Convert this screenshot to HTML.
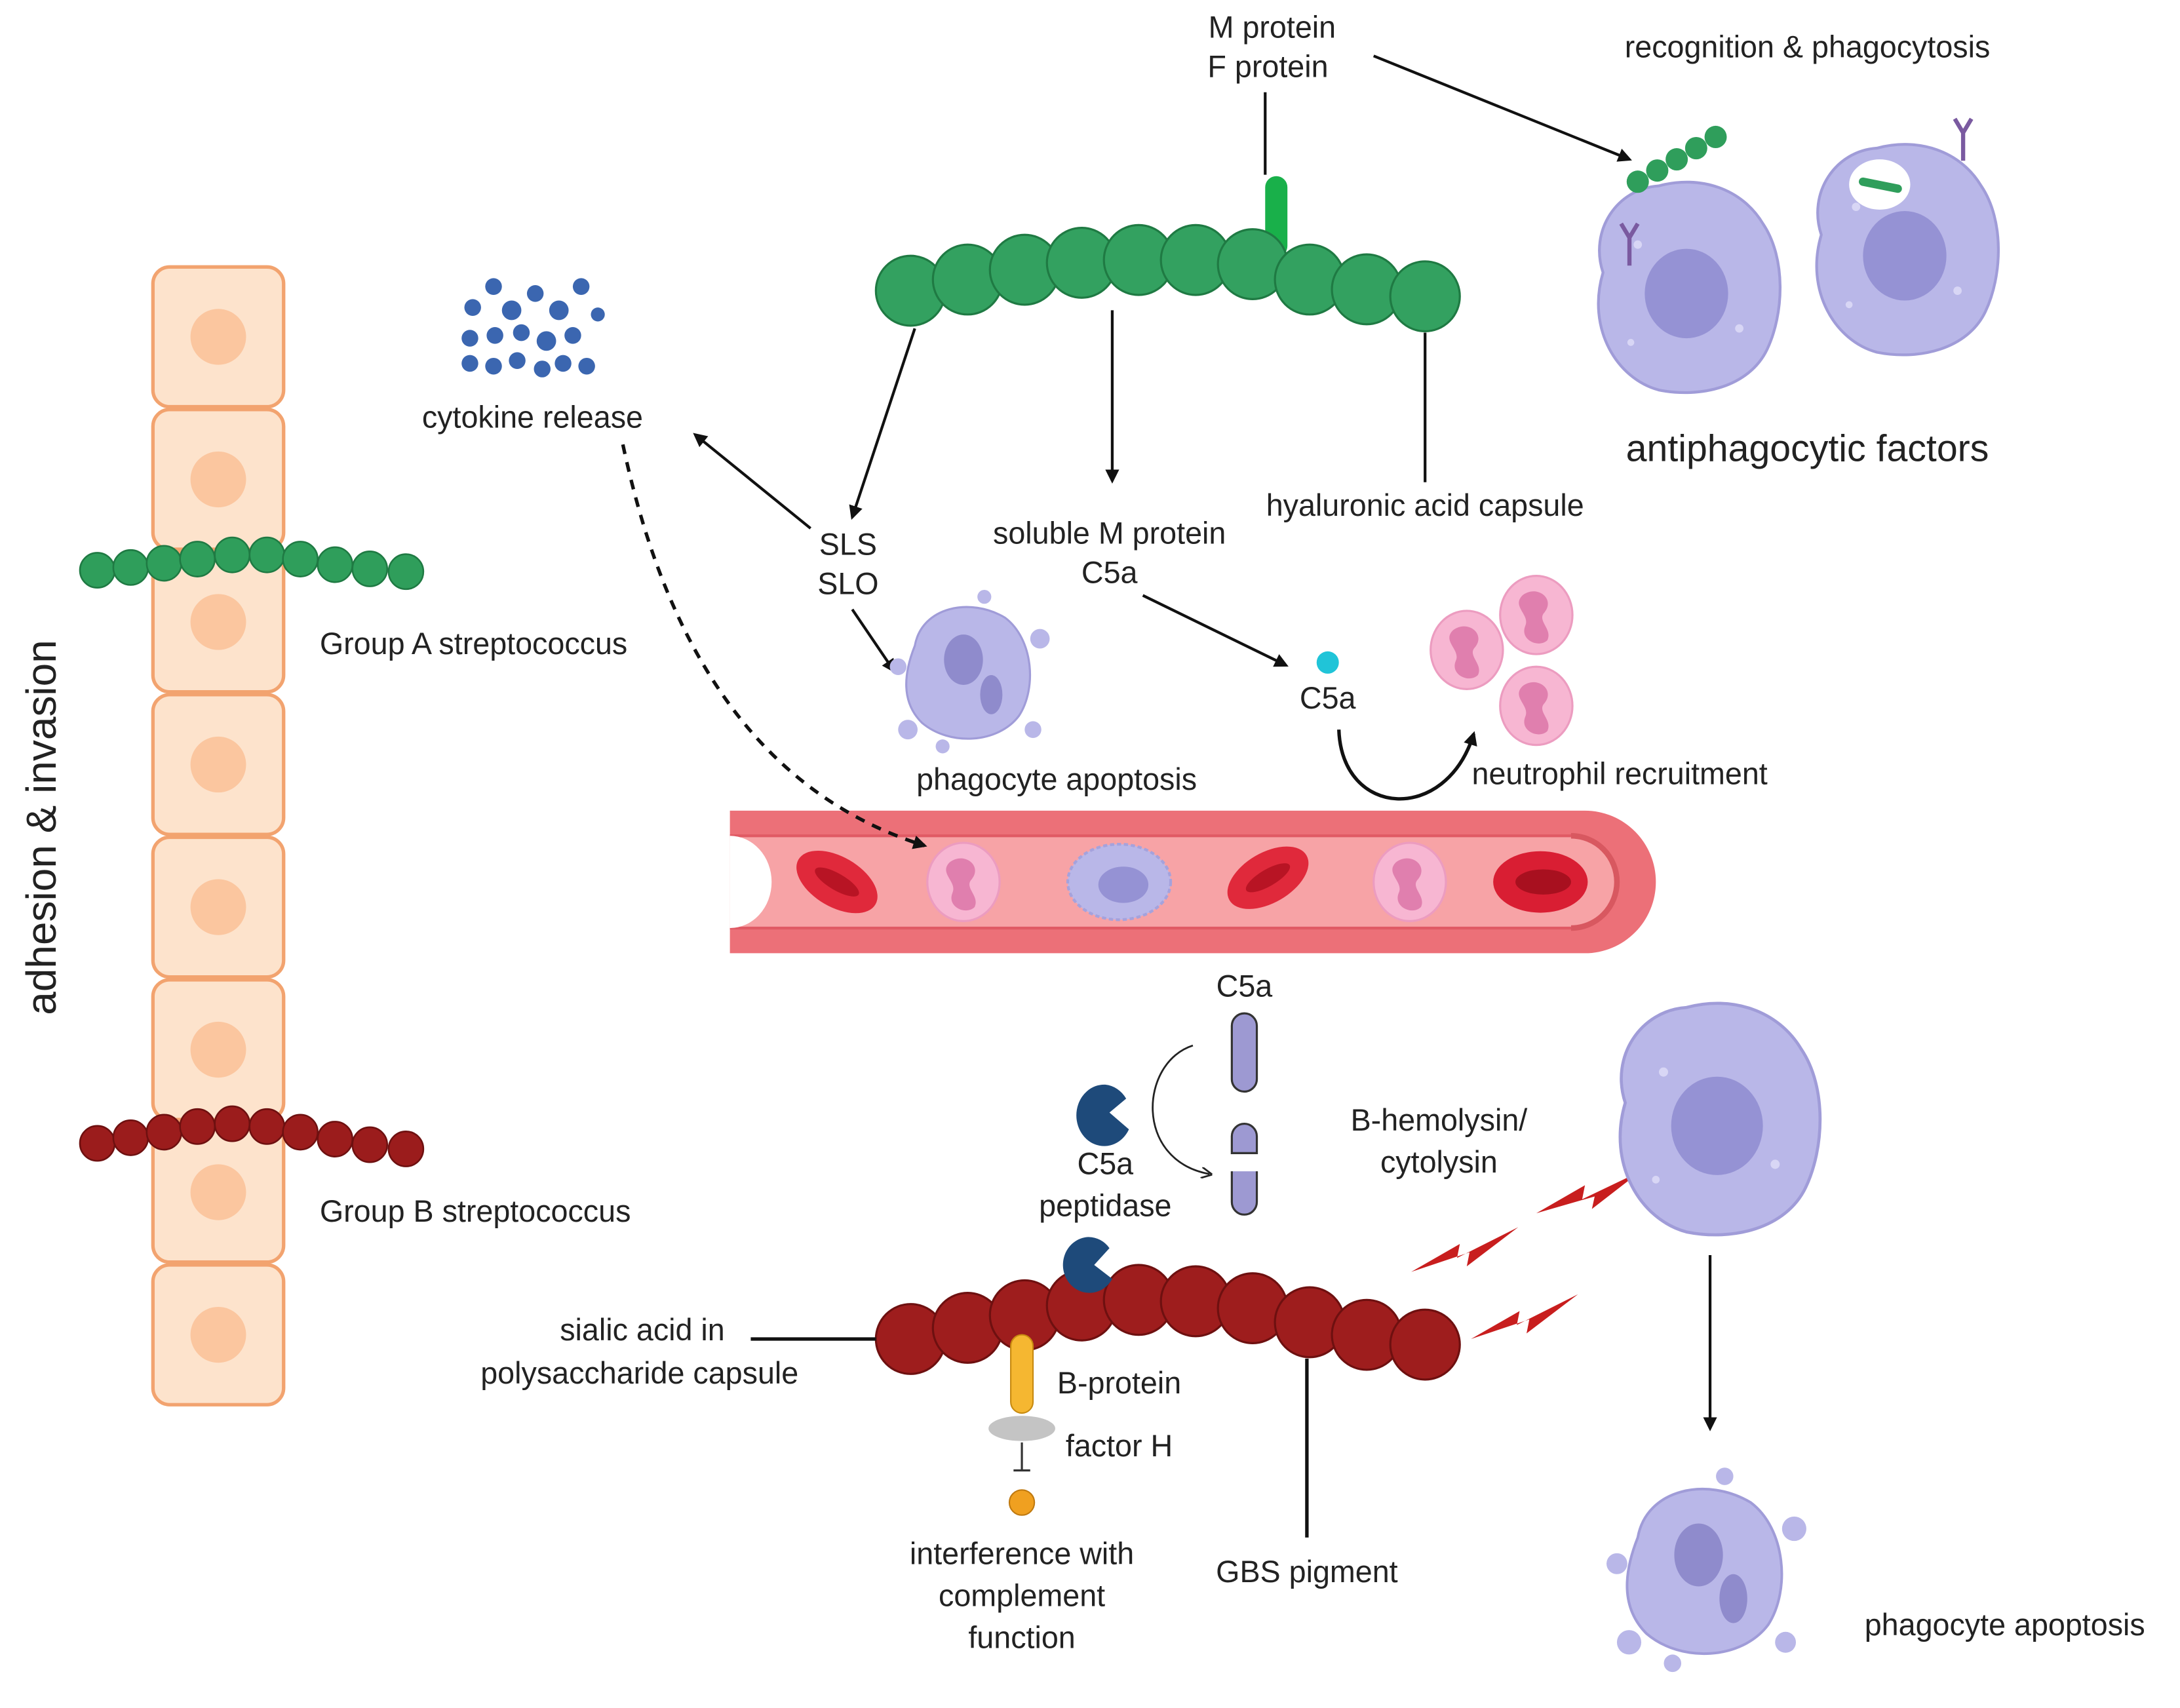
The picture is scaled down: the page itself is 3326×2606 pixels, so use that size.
<!DOCTYPE html>
<html><head><meta charset="utf-8"><style>
html,body{margin:0;padding:0;background:#fff}
svg{display:block}
text{font-family:"Liberation Sans Narrow","Liberation Sans",sans-serif;fill:#222}
</style></head><body>
<svg width="3326" height="2606" viewBox="0 0 1568 1222" preserveAspectRatio="none" xmlns="http://www.w3.org/2000/svg">
<defs>
<marker id="ah" markerWidth="10" markerHeight="10" refX="8" refY="5" orient="auto" markerUnits="userSpaceOnUse"><path d="M0,0 L10,5 L0,10 z" fill="#111"/></marker>
<marker id="ahs" markerWidth="8" markerHeight="8" refX="6" refY="4" orient="auto" markerUnits="userSpaceOnUse"><path d="M0,0 L8,4 L0,8" fill="none" stroke="#222" stroke-width="1.3"/></marker>
<g id="cell"><rect x="-47" y="-50" width="94" height="100" rx="12" fill="#fde3cc" stroke="#f2a36f" stroke-width="2.5"/><circle r="20" fill="#fbc69f"/></g>
<g id="gA"><circle r="12.5" fill="#2f9e5b" stroke="#1f7a43" stroke-width="1.2"/></g>
<g id="gB"><circle r="12.5" fill="#9b1c1c" stroke="#6e1010" stroke-width="1.2"/></g>
<g id="GA"><circle r="25" fill="#33a160" stroke="#1f7a43" stroke-width="1.5"/></g>
<g id="GB"><circle r="25" fill="#9e1d1d" stroke="#6e1010" stroke-width="1.5"/></g>
<g id="mac"><path d="M-60,-10 C-70,-40 -50,-70 -20,-72 C10,-80 40,-70 55,-45 C72,-20 70,20 58,45 C45,72 10,80 -20,74 C-50,66 -72,30 -60,-10z" fill="#b9b7e8" stroke="#a09cd8" stroke-width="2"/><ellipse cx="0" cy="5" rx="30" ry="32" fill="#9592d4"/><circle cx="-35" cy="-30" r="3" fill="#d8d6f5"/><circle cx="38" cy="30" r="3" fill="#d8d6f5"/><circle cx="-40" cy="40" r="2.5" fill="#d8d6f5"/></g>
<g id="apo"><path d="M-40,-20 C-35,-48 0,-55 25,-40 C45,-25 48,10 35,30 C20,50 -15,52 -35,35 C-50,20 -48,0 -40,-20z" fill="#b9b7e8" stroke="#a09cd8" stroke-width="1.5"/><ellipse cx="-5" cy="-10" rx="14" ry="18" fill="#8f8bcc"/><ellipse cx="15" cy="15" rx="8" ry="14" fill="#8f8bcc"/><circle cx="-52" cy="-5" r="6" fill="#b9b7e8"/><circle cx="50" cy="-25" r="7" fill="#b9b7e8"/><circle cx="45" cy="40" r="6" fill="#b9b7e8"/><circle cx="-45" cy="40" r="7" fill="#b9b7e8"/><circle cx="-20" cy="52" r="5" fill="#b9b7e8"/><circle cx="10" cy="-55" r="5" fill="#b9b7e8"/></g>
<g id="neu"><ellipse rx="26" ry="28" fill="#f7b6d2" stroke="#ec9cc0" stroke-width="1.5"/><path d="M-10,-14 C0,-22 14,-12 6,-2 C0,4 12,10 8,18 C2,24 -12,18 -8,8 C-4,0 -18,-6 -10,-14z" fill="#e07fae"/></g>
<g id="rbc"><ellipse rx="32" ry="18" fill="#e0293b"/><ellipse rx="18" ry="6" fill="#b81424"/></g>
</defs>

<use href="#cell" x="157" y="241"/><use href="#cell" x="157" y="343"/><use href="#cell" x="157" y="445"/><use href="#cell" x="157" y="547"/>
<use href="#cell" x="157" y="649"/><use href="#cell" x="157" y="751"/><use href="#cell" x="157" y="853"/><use href="#cell" x="157" y="955"/>
<g>
<use href="#gA" x="70" y="408"/><use href="#gA" x="94" y="406"/><use href="#gA" x="118" y="403"/><use href="#gA" x="142" y="400"/><use href="#gA" x="167" y="397"/><use href="#gA" x="192" y="397"/><use href="#gA" x="216" y="400"/><use href="#gA" x="241" y="404"/><use href="#gA" x="266" y="407"/><use href="#gA" x="292" y="409"/>
<use href="#gB" x="70" y="818"/><use href="#gB" x="94" y="814"/><use href="#gB" x="118" y="810"/><use href="#gB" x="142" y="806"/><use href="#gB" x="167" y="804"/><use href="#gB" x="192" y="806"/><use href="#gB" x="216" y="810"/><use href="#gB" x="241" y="815"/><use href="#gB" x="266" y="819"/><use href="#gB" x="292" y="822"/>
</g>
<text x="40" y="592" font-size="30" text-anchor="middle" transform="rotate(-90 40 592)" font-family="Liberation Sans,sans-serif">adhesion &amp; invasion</text>
<text x="230" y="468" font-size="22">Group A streptococcus</text>
<text x="230" y="874" font-size="22">Group B streptococcus</text>

<rect x="910" y="126" width="16" height="58" rx="8" fill="#19b04a"/>
<use href="#GA" x="655" y="208"/><use href="#GA" x="696" y="200"/><use href="#GA" x="737" y="193"/><use href="#GA" x="778" y="188"/><use href="#GA" x="819" y="186"/><use href="#GA" x="860" y="186"/><use href="#GA" x="901" y="189"/><use href="#GA" x="942" y="200"/><use href="#GA" x="983" y="207"/><use href="#GA" x="1025" y="212"/>
<text x="915" y="27" font-size="22" text-anchor="middle">M protein</text>
<text x="912" y="55" font-size="22" text-anchor="middle">F protein</text>
<line x1="910" y1="66" x2="910" y2="125" stroke="#111" stroke-width="2"/>
<line x1="988" y1="40" x2="1172" y2="114" stroke="#111" stroke-width="2" marker-end="url(#ah)"/>
<text x="1300" y="41" font-size="22" text-anchor="middle">recognition &amp; phagocytosis</text>
<use href="#mac" x="1213" y="205"/>
<circle cx="1178" cy="130" r="8" fill="#2f9e5b"/><circle cx="1192" cy="122" r="8" fill="#2f9e5b"/><circle cx="1206" cy="114" r="8" fill="#2f9e5b"/><circle cx="1220" cy="106" r="8" fill="#2f9e5b"/><circle cx="1234" cy="98" r="8" fill="#2f9e5b"/>
<path d="M1166,160 l6,10 l6,-10 M1172,170 v20" stroke="#7a5aa0" stroke-width="3" fill="none"/>
<use href="#mac" x="1370" y="178"/>
<ellipse cx="1352" cy="132" rx="22" ry="18" fill="#fff"/><path d="M1340,130 l25,5" stroke="#2f9e5b" stroke-width="6" stroke-linecap="round"/>
<path d="M1406,85 l6,10 l6,-10 M1412,95 v20" stroke="#7a5aa0" stroke-width="3" fill="none"/>
<text x="1300" y="330" font-size="27" text-anchor="middle" font-family="Liberation Sans,sans-serif">antiphagocytic factors</text>

<g fill="#3b66b0">
<circle cx="340" cy="220" r="6"/><circle cx="355" cy="205" r="6"/><circle cx="368" cy="222" r="7"/><circle cx="385" cy="210" r="6"/><circle cx="402" cy="222" r="7"/><circle cx="418" cy="205" r="6"/><circle cx="430" cy="225" r="5"/>
<circle cx="338" cy="242" r="6"/><circle cx="356" cy="240" r="6"/><circle cx="375" cy="238" r="6"/><circle cx="393" cy="244" r="7"/><circle cx="412" cy="240" r="6"/>
<circle cx="338" cy="260" r="6"/><circle cx="355" cy="262" r="6"/><circle cx="372" cy="258" r="6"/><circle cx="390" cy="264" r="6"/><circle cx="405" cy="260" r="6"/><circle cx="422" cy="262" r="6"/>
</g>
<text x="383" y="306" font-size="22" text-anchor="middle">cytokine release</text>

<line x1="658" y1="235" x2="613" y2="370" stroke="#111" stroke-width="2" marker-end="url(#ah)"/>
<line x1="800" y1="222" x2="800" y2="344" stroke="#111" stroke-width="2" marker-end="url(#ah)"/>
<line x1="1025" y1="238" x2="1025" y2="345" stroke="#111" stroke-width="2"/>
<text x="1025" y="369" font-size="22" text-anchor="middle">hyaluronic acid capsule</text>
<text x="610" y="397" font-size="22" text-anchor="middle">SLS</text>
<text x="610" y="425" font-size="22" text-anchor="middle">SLO</text>
<line x1="583" y1="378" x2="500" y2="311" stroke="#111" stroke-width="2" marker-end="url(#ah)"/>
<line x1="613" y1="436" x2="643" y2="480" stroke="#111" stroke-width="2" marker-end="url(#ah)"/>
<text x="798" y="389" font-size="22" text-anchor="middle">soluble M protein</text>
<text x="798" y="417" font-size="22" text-anchor="middle">C5a</text>
<line x1="822" y1="426" x2="925" y2="476" stroke="#111" stroke-width="2" marker-end="url(#ah)"/>
<circle cx="955" cy="474" r="8" fill="#20c4d8"/>
<text x="955" y="507" font-size="22" text-anchor="middle">C5a</text>
<use href="#apo" x="698" y="482"/>
<text x="760" y="565" font-size="22" text-anchor="middle">phagocyte apoptosis</text>
<use href="#neu" x="1055" y="465"/><use href="#neu" x="1105" y="440"/><use href="#neu" x="1105" y="505"/>
<path d="M963,522 C965,585 1040,590 1060,525" stroke="#111" stroke-width="2.5" fill="none" marker-end="url(#ah)"/>
<text x="1165" y="561" font-size="22" text-anchor="middle">neutrophil recruitment</text>

<path d="M525,580 H1140 A51,51 0 0 1 1140,682 H525 Z" fill="#ec7078"/>
<path d="M525,598 H1130 A33,33 0 0 1 1130,664 H525 Z" fill="#f7a3a6"/>
<path d="M1130,598 A33,33 0 0 1 1130,664" stroke="#d85860" stroke-width="4" fill="none"/>
<line x1="525" y1="598" x2="1130" y2="598" stroke="#e05a64" stroke-width="2"/>
<line x1="525" y1="664" x2="1130" y2="664" stroke="#e05a64" stroke-width="2"/>
<path d="M525,598 A30,33 0 0 1 525,664" fill="#fff"/>
<use href="#rbc" transform="translate(602,631) rotate(30)"/>
<use href="#neu" x="693" y="631"/>
<g transform="translate(805,631)"><ellipse rx="37" ry="27" fill="#b9b7e8" stroke="#a5a2dc" stroke-width="2" stroke-dasharray="3,2"/><ellipse cx="3" cy="2" rx="18" ry="13" fill="#9592d4"/></g>
<use href="#rbc" transform="translate(912,628) rotate(-30)"/>
<use href="#neu" x="1014" y="631"/>
<g transform="translate(1108,631)"><ellipse rx="34" ry="22" fill="#d91e33"/><ellipse cx="2" rx="20" ry="9" fill="#a8101f"/></g>
<path d="M448,318 C470,420 520,560 665,605" stroke="#111" stroke-width="2.5" fill="none" stroke-dasharray="7,6" marker-end="url(#ah)"/>

<text x="895" y="713" font-size="22" text-anchor="middle">C5a</text>
<rect x="886" y="725" width="18" height="56" rx="9" fill="#9d99d2" stroke="#333" stroke-width="1.5"/>
<path d="M886,825 v-12 a9,9 0 0 1 18,0 v12 z" fill="#9d99d2" stroke="#333" stroke-width="1.5"/>
<path d="M886,838 v22 a9,9 0 0 0 18,0 v-22" fill="#9d99d2" stroke="#333" stroke-width="1.5"/>
<path d="M858,748 C820,760 815,830 870,840" stroke="#222" stroke-width="1.3" fill="none" marker-end="url(#ahs)"/>
<path d="M795,776 A20,22 0 1 0 812,808 L798,796 L810,786 A20,22 0 0 0 795,776 z" fill="#1e4a7a"/>
<text x="795" y="840" font-size="22" text-anchor="middle">C5a</text>
<text x="795" y="870" font-size="22" text-anchor="middle">peptidase</text>

<use href="#GB" x="655" y="958"/><use href="#GB" x="696" y="950"/><use href="#GB" x="737" y="941"/><use href="#GB" x="778" y="934"/><use href="#GB" x="819" y="930"/><use href="#GB" x="860" y="931"/><use href="#GB" x="901" y="936"/><use href="#GB" x="942" y="946"/><use href="#GB" x="983" y="955"/><use href="#GB" x="1025" y="962"/>
<path d="M783,885 A19,20 0 1 0 800,915 L787,905 L798,893 A19,20 0 0 0 783,885 z" fill="#1e4a7a"/>
<line x1="540" y1="958" x2="630" y2="958" stroke="#111" stroke-width="2.5"/>
<text x="462" y="959" font-size="22" text-anchor="middle">sialic acid in</text>
<text x="460" y="990" font-size="22" text-anchor="middle">polysaccharide capsule</text>
<rect x="727" y="955" width="16" height="56" rx="8" fill="#f5b731" stroke="#c78a10" stroke-width="1"/>
<text x="805" y="997" font-size="22" text-anchor="middle">B-protein</text>
<ellipse cx="735" cy="1022" rx="24" ry="9" fill="#c4c4c4"/>
<text x="805" y="1042" font-size="22" text-anchor="middle">factor H</text>
<line x1="735" y1="1032" x2="735" y2="1052" stroke="#333" stroke-width="1.5"/><line x1="729" y1="1052" x2="741" y2="1052" stroke="#333" stroke-width="1.5"/>
<circle cx="735" cy="1075" r="9" fill="#f0a020" stroke="#c07a10"/>
<text x="735" y="1119" font-size="22" text-anchor="middle">interference with</text>
<text x="735" y="1149" font-size="22" text-anchor="middle">complement</text>
<text x="735" y="1179" font-size="22" text-anchor="middle">function</text>
<line x1="940" y1="972" x2="940" y2="1100" stroke="#111" stroke-width="2.5"/>
<text x="940" y="1132" font-size="22" text-anchor="middle">GBS pigment</text>
<text x="1035" y="809" font-size="22" text-anchor="middle">B-hemolysin/</text>
<text x="1035" y="839" font-size="22" text-anchor="middle">cytolysin</text>
<g fill="#c81e1e">
<path d="M1105,868 L1140,848 L1138,858 L1180,838 L1145,865 L1147,856 Z"/>
<path d="M1015,910 L1050,890 L1048,900 L1092,878 L1055,906 L1057,896 Z"/>
<path d="M1058,958 L1093,938 L1091,948 L1135,926 L1098,954 L1100,944 Z"/>
</g>
<use href="#mac" transform="translate(1235,800) scale(1.1)"/>
<line x1="1230" y1="898" x2="1230" y2="1022" stroke="#111" stroke-width="2" marker-end="url(#ah)"/>
<use href="#apo" transform="translate(1228,1125) scale(1.25)"/>
<text x="1442" y="1170" font-size="22" text-anchor="middle">phagocyte apoptosis</text>
</svg>
</body></html>
